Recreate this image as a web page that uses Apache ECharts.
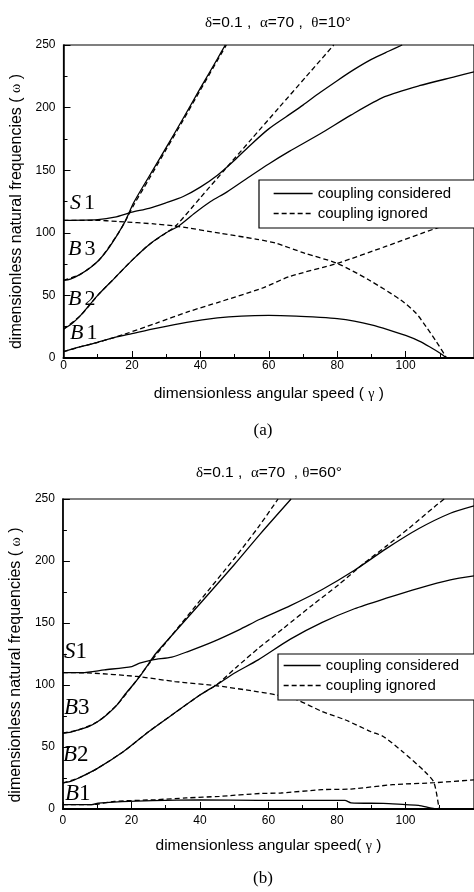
<!DOCTYPE html>
<html><head><meta charset="utf-8">
<script src="https://cdn.jsdelivr.net/npm/echarts@6/dist/echarts.min.js"></script>
<style>html,body{margin:0;padding:0;background:#fff}#c{width:474px;height:892px}</style>
</head><body><div id="c"></div>
<script>
// ===== Data: panel (a)  δ=0.1, α=70, θ=10°  — [γ, ω] pairs =====
const aS1Considered = [[0,110],[10,110.6],[15,112.5],[20,116.5],[25,119.5],[30,124],[35,129],[40,136.5],[45,146],[50,158],[55,171],[60,183],[65,192.5],[70,202],[75,212],[80,221.5],[85,230.5],[90,238.5],[95,245],[99,250]];
const aB3Considered = [[0,62],[2,63],[5,67],[8,72.5],[10.4,78.3],[13,87],[16,99.6],[18,109],[20.5,124],[25,145],[30,168],[35,191.5],[40,215.5],[45,239],[47.3,250]];
const aB2Considered = [[0,23],[2.5,27.5],[5,34],[10,50],[15,64],[20,78],[25,90.5],[30,100],[33.7,105.5],[38.4,115.8],[43,125],[47.7,132.5],[55,146],[60,155],[66,165],[75.3,179.5],[84,194],[93.9,208.7],[104,217.5],[114.5,224.7],[120,228.5]];
const aB1Considered = [[0,5],[5,9],[10,12.5],[15,16.5],[20,19.5],[27,23.7],[36,28.5],[45,32],[52,33.5],[60,34],[68,33.5],[75,32.5],[80,31.5],[85,29.5],[90,26.5],[95,22.5],[100,18],[104,13.5],[107,9],[110,4],[112,0]];
const aS1Ignored = [[0,110],[9,110],[16,109],[27,107],[33.7,105],[45.9,99.6],[56.6,94.8],[62.2,91.6],[70.6,83.6],[80,75.6],[89.3,62.3],[98.6,46.3],[103,36],[106,25],[109,13],[112,0]];
const aB3Ignored = [[0,62],[5,67],[10.4,78.3],[16,99.6],[18,109],[20.5,122],[25,143],[30,166.5],[35,190],[40,214],[47.6,250]];
const aB2Ignored = [[0,23],[5,34],[10,50],[15,64],[20,78],[25,90.5],[30,100],[33,106],[40,128],[47,150],[55,175],[63,200],[71,225],[79,250]];
const aB1Ignored = [[0,5],[5,9],[10,12.5],[17.8,19],[27,27.7],[36.5,37],[45.9,45],[58,55.7],[66,65],[80,75.6],[94,88.9],[109,103.6],[120,111]];

// ===== Data: panel (b)  δ=0.1, α=70, θ=60° =====
const bS1Considered = [[0,110],[5.6,110],[12.1,112.2],[20.1,114.9],[22.4,117.6],[26.2,120.3],[31.8,122.5],[36.5,127],[43.9,135],[51.4,144.5],[57.5,153],[66.4,164],[75.7,177],[85.1,192.5],[94.4,210],[103.8,226],[113.1,238.5],[120,244.5]];
const bB3Considered = [[0,61.2],[2,61.8],[4.6,63.9],[7.5,66.5],[10.2,70.6],[13,76.5],[15.8,84],[18,92],[20.5,100.2],[23,109],[25.1,117.5],[27,125],[30,134.5],[40,165.5],[50,197],[57.5,221.5],[66.6,250]];
const bB2Considered = [[0,21],[2,22],[4.6,25],[10.2,33],[17.7,46.4],[25.1,62.5],[32.6,77.4],[40.1,92.1],[44.9,100.2],[50,109.5],[57,120.3],[66.4,137],[75.7,150.5],[85.1,161.5],[94.4,170],[103.8,178],[113.1,184.8],[120,188]];
const bB1Considered = [[0,3.5],[8.4,3.5],[10.3,4.8],[26.2,6.7],[40.2,7.3],[57.1,7],[82.3,7],[84.1,5],[93.5,4.5],[100,3.5],[103.8,3],[109.4,0],[120,0]];
const bS1Ignored = [[0,110],[8.4,109.6],[21.5,106.9],[32.7,102.8],[44.9,99.4],[57,94.5],[62.1,92.1],[68.2,88.1],[75.7,78.6],[82.3,72],[89.8,62.5],[93.5,58.5],[99.1,46.4],[105.6,30.3],[108.3,21.4],[109.8,0]];
const bB3Ignored = [[0,61.2],[4.6,63.9],[10.2,70.6],[15.8,84],[20.5,100.2],[25.1,117],[30,134],[40,168],[50,202],[57.1,227.5],[62.8,250]];
const bB2Ignored = [[0,21],[4.6,25],[10.2,33],[17.7,46.4],[25.1,62.5],[32.6,77.4],[40.1,92.1],[44.9,100.2],[50.5,114],[57.1,129.7],[64.4,145.8],[72.9,164.6],[80.4,180.7],[87.9,198.2],[94.4,212],[101,226.4],[108.5,243.8],[111.3,250]];
const bB1Ignored = [[0,3.5],[8.4,3.5],[15,6.1],[27,7.5],[36,8.9],[45.7,10.2],[57.5,12.5],[63.6,12.9],[75.7,15.6],[84.1,16.1],[96.3,19.6],[108.4,21.2],[120,23.5]];

// ===== Texts =====
const titleA = '{g|δ}=0.1 ,  {g|α}=70 ,  {g|θ}=10°';
const titleB = '{g|δ}=0.1 ,  {g|α}=70  , {g|θ}=60°';
const xNameA = 'dimensionless angular speed ( {g|γ} )';
const xNameB = 'dimensionless angular speed( {g|γ} )';
const yName = 'dimensionless natural frequencies ( {g|ω} )';
const legendNames = ['coupling considered', 'coupling ignored'];
const xTicks = [0, 20, 40, 60, 80, 100];

const SANS = '"Liberation Sans", Arial, sans-serif';
const SERIF = '"Liberation Serif", "Times New Roman", serif';
const richG = { g: { fontFamily: SERIF, fontSize: 14, color: '#000' } };
const CLEAR = 'rgba(0,0,0,0)';

const chart = echarts.init(document.getElementById('c'), null, { renderer: 'canvas', width: 474, height: 892 });

function xAxis(gridIndex, name, nameGap, margin) {
  return {
    type: 'value', gridIndex, min: 0, max: 120, interval: 20,
    name, nameLocation: 'middle', nameGap,
    nameTextStyle: { fontFamily: SANS, fontSize: 15.5, color: '#000', rich: richG },
    axisLine: { show: true, lineStyle: { color: '#000', width: 2 } },
    axisTick: { show: true, inside: true, length: 7, lineStyle: { color: '#000', width: 1 } },
    minorTick: { show: true, splitNumber: 2, length: 4, lineStyle: { color: '#000', width: 1 } },
    axisLabel: { margin, fontFamily: SANS, fontSize: 12, color: '#000', showMaxLabel: false,
      formatter: v => (xTicks.indexOf(v) >= 0 ? String(v) : '') },
    splitLine: { show: false }, minorSplitLine: { show: false }
  };
}
function yAxis(gridIndex, nameGap, shift) {
  return {
    type: 'value', gridIndex, min: 0, max: 250, interval: 50,
    name: yName, nameLocation: 'middle', nameGap, nameRotate: 90,
    nameTextStyle: { fontFamily: SANS, fontSize: 16, color: '#000', rich: richG, padding: [0, shift, 0, 0] },
    axisLine: { show: true, lineStyle: { color: '#000', width: 1.5 } },
    axisTick: { show: true, inside: true, length: 7, lineStyle: { color: '#000', width: 1 } },
    minorTick: { show: true, splitNumber: 2, length: 4, lineStyle: { color: '#000', width: 1 } },
    axisLabel: { margin: 8, fontFamily: SANS, fontSize: 12, color: '#000' },
    splitLine: { show: false }
  };
}
function line(name, data, dashed, idx) {
  return {
    type: 'line', name, data, xAxisIndex: idx, yAxisIndex: idx,
    showSymbol: false, symbol: 'none', smooth: 0.25, clip: true, silent: true,
    lineStyle: { color: '#000', width: 1.3, type: dashed ? [5, 3] : 'solid' },
    itemStyle: { color: CLEAR, borderColor: CLEAR, borderWidth: 0 }
  };
}
function legend(left, top, padding, itemWidth) {
  return {
    orient: 'vertical', left, top, padding, itemGap: 5, itemWidth, itemHeight: 14,
    data: legendNames, selectedMode: false,
    itemStyle: { color: CLEAR, borderColor: CLEAR, borderWidth: 0, opacity: 0 },
    lineStyle: { color: '#000', width: 1.3 },
    borderColor: '#000', borderWidth: 1.2, borderRadius: 0, backgroundColor: '#fff',
    textStyle: { fontFamily: SANS, fontSize: 15, color: '#000' }
  };
}
function tag(letter, digit, x, y, size, gap) {
  return {
    type: 'text', x, y, z: 100,
    style: {
      text: '{l|' + letter + '}{d|' + digit + '}', verticalAlign: 'middle', align: 'left',
      rich: {
        l: { fontFamily: SERIF, fontStyle: 'italic', fontSize: size, color: '#000', padding: [0, gap, 0, 0] },
        d: { fontFamily: SERIF, fontSize: size, color: '#000' }
      }
    }
  };
}

const titleStyle = { fontFamily: SANS, fontSize: 15.5, fontWeight: 'normal', color: '#000', rich: { g: { fontFamily: SERIF, fontSize: 15, color: '#000' } } };

const option = {
  backgroundColor: '#fff',
  animation: false,
  title: [
    { text: titleA, left: 278, top: 15, padding: 0, textAlign: 'center', textStyle: titleStyle },
    { text: titleB, left: 269, top: 465, padding: 0, textAlign: 'center', textStyle: titleStyle }
  ],
  grid: [
    { left: 63.5, top: 45, width: 427.5, height: 313, show: true, borderColor: '#000', borderWidth: 1.2, backgroundColor: 'transparent' },
    { left: 57, top: 499, width: 427, height: 310, show: true, borderColor: '#000', borderWidth: 1.2, backgroundColor: 'transparent' }
  ],
  xAxis: [xAxis(0, xNameA, 28, 2), xAxis(1, xNameB, 29, 6)],
  yAxis: [yAxis(0, 36, 20), yAxis(1, 37, 22)],
  legend: [legend(259, 180, [6, 40, 7, 14], 39), legend(278, 654, [4, 40, 7, 5], 37)],
  series: [
    line('coupling considered', aS1Considered, false, 0),
    line('coupling considered', aB3Considered, false, 0),
    line('coupling considered', aB2Considered, false, 0),
    line('coupling considered', aB1Considered, false, 0),
    line('coupling ignored', aS1Ignored, true, 0),
    line('coupling ignored', aB3Ignored, true, 0),
    line('coupling ignored', aB2Ignored, true, 0),
    line('coupling ignored', aB1Ignored, true, 0),
    line('coupling considered', bS1Considered, false, 1),
    line('coupling considered', bB3Considered, false, 1),
    line('coupling considered', bB2Considered, false, 1),
    line('coupling considered', bB1Considered, false, 1),
    line('coupling ignored', bS1Ignored, true, 1),
    line('coupling ignored', bB3Ignored, true, 1),
    line('coupling ignored', bB2Ignored, true, 1),
    line('coupling ignored', bB1Ignored, true, 1)
  ],
  graphic: [
    tag('S', '1', 70, 203, 22, 3),
    tag('B', '3', 68, 249, 22, 3),
    tag('B', '2', 68, 299, 22, 3),
    tag('B', '1', 70, 333, 22, 3),
    tag('S', '1', 64, 652, 23, 0),
    tag('B', '3', 64, 708, 23, 0),
    tag('B', '2', 63, 755, 23, 0),
    tag('B', '1', 65, 794, 23, 0),
    { type: 'text', x: 263, y: 431, style: { text: '(a)', align: 'center', verticalAlign: 'middle', fontFamily: SERIF, fontSize: 17, fill: '#000' } },
    { type: 'text', x: 263, y: 879, style: { text: '(b)', align: 'center', verticalAlign: 'middle', fontFamily: SERIF, fontSize: 17, fill: '#000' } }
  ]
};
chart.setOption(option);
</script>
</body></html>
